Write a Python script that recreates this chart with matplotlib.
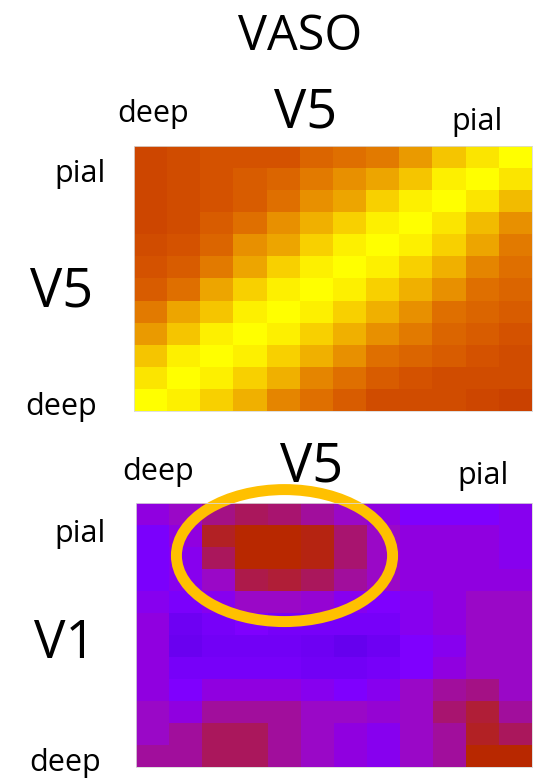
import numpy as np
import matplotlib
matplotlib.use("Agg")
import matplotlib.pyplot as plt
from matplotlib.colors import LinearSegmentedColormap
from matplotlib.patches import Ellipse

plt.rcParams['font.family'] = ['Open Sans', 'DejaVu Sans']

# Layer-by-layer VASO correlation matrices (rows: pial -> deep, cols: deep -> pial)
v5_v5 = [
    [1.0, 1.5, 2.0, 2.0, 2.0, 3.0, 3.5, 4.0, 5.5, 7.5, 9.0, 10.0],
    [1.0, 1.5, 2.0, 2.5, 3.0, 4.0, 5.0, 6.0, 7.5, 9.5, 10.0, 9.0],
    [1.0, 1.5, 2.0, 2.5, 3.5, 5.0, 6.0, 8.0, 9.5, 10.0, 9.0, 7.0],
    [1.0, 1.5, 2.5, 3.5, 5.0, 6.5, 8.0, 9.5, 10.0, 9.0, 7.0, 5.0],
    [1.5, 2.0, 3.0, 5.0, 6.0, 8.0, 9.5, 10.0, 9.5, 8.0, 6.0, 4.0],
    [2.0, 2.5, 4.0, 6.0, 8.0, 9.5, 10.0, 9.5, 8.0, 6.5, 4.5, 3.5],
    [2.5, 3.5, 6.0, 8.0, 9.5, 10.0, 9.5, 8.0, 6.5, 5.0, 3.5, 3.0],
    [4.0, 6.0, 7.5, 9.5, 10.0, 9.5, 8.0, 6.5, 5.0, 3.5, 3.0, 2.5],
    [5.5, 7.5, 9.5, 10.0, 9.5, 8.0, 6.5, 5.0, 4.0, 3.0, 2.5, 2.0],
    [7.5, 9.5, 10.0, 9.5, 8.0, 6.5, 5.0, 3.5, 3.0, 2.5, 2.0, 1.5],
    [9.0, 10.0, 9.5, 8.0, 6.5, 4.5, 3.5, 2.5, 2.0, 1.5, 1.5, 1.5],
    [10.0, 9.5, 8.0, 6.5, 4.5, 3.5, 2.5, 1.5, 1.5, 1.5, 1.0, 0.5],
]

v1_v5 = [
    [4.0, 5.0, 6.5, 7.5, 7.0, 6.0, 5.0, 4.0, 3.0, 3.0, 3.0, 3.5],
    [2.5, 4.0, 9.0, 10.0, 10.0, 9.5, 7.0, 5.0, 4.0, 4.0, 4.0, 3.5],
    [2.5, 3.5, 7.5, 10.0, 10.0, 9.5, 7.0, 5.0, 4.0, 4.0, 4.0, 3.5],
    [2.5, 3.5, 5.0, 8.0, 8.5, 7.5, 6.0, 5.0, 4.0, 4.0, 4.0, 4.0],
    [3.5, 2.5, 3.5, 5.0, 5.0, 4.5, 3.5, 3.0, 3.5, 4.0, 5.0, 5.0],
    [4.0, 1.0, 2.0, 3.0, 2.0, 2.0, 2.0, 2.0, 3.5, 4.0, 5.0, 5.0],
    [4.0, 0.5, 1.5, 1.5, 1.5, 1.0, 0.0, 1.0, 3.0, 3.5, 5.0, 5.0],
    [4.0, 2.0, 2.0, 2.0, 2.0, 1.5, 1.5, 2.0, 3.0, 4.0, 5.0, 5.0],
    [4.0, 3.0, 4.0, 4.0, 4.0, 3.5, 3.0, 3.5, 5.0, 6.0, 6.5, 5.0],
    [5.0, 4.0, 6.0, 6.0, 6.0, 5.0, 5.0, 4.5, 5.0, 7.0, 8.5, 6.0],
    [5.0, 6.0, 7.5, 7.5, 6.0, 5.0, 4.0, 3.5, 5.0, 6.0, 9.0, 7.5],
    [6.0, 6.0, 7.5, 7.5, 6.0, 5.0, 4.0, 3.5, 5.0, 6.0, 10.0, 10.0],
]

title = "VASO"
row_labels = ["pial", "deep"]
col_labels = ["deep", "pial"]

warm = LinearSegmentedColormap.from_list(
    "warm", [(0.0, "#c83c00"), (0.2, "#d45200"), (0.35, "#e07000"),
             (0.5, "#e89000"), (0.65, "#f0b000"), (0.8, "#f8d000"),
             (0.95, "#fdf000"), (1.0, "#ffff00")])
violet = LinearSegmentedColormap.from_list(
    "violet", [(0.0, "#6600ee"), (0.3, "#8000ff"), (0.4, "#9000e0"),
               (0.5, "#9a08c8"), (0.7, "#a81470"), (1.0, "#b82800")])

W, H = 543, 780
fig = plt.figure(figsize=(W / 100, H / 100), dpi=100)


def px_axes(x0, y0, x1, y1):
    return fig.add_axes([x0 / W, 1 - y1 / H, (x1 - x0) / W, (y1 - y0) / H])


def label(x, y, s, size):
    fig.text(x / W, 1 - y / H, s, ha='center', va='baseline', fontsize=size, color='black')


def heat(ax, data, cmap):
    ax.imshow(np.array(data), cmap=cmap, vmin=0, vmax=10, aspect='auto',
              interpolation='nearest')
    ax.set_xticks([])
    ax.set_yticks([])
    for s in ax.spines.values():
        s.set_color('#d8d8d8')
        s.set_linewidth(0.6)


ax1 = px_axes(134, 146, 532, 411)
heat(ax1, v5_v5, warm)
ax2 = px_axes(136, 503, 532, 767)
heat(ax2, v1_v5, violet)

# highlight the pial-pial cluster
ax2.add_patch(Ellipse((4.0, 1.89), 6.55, 6.0, fill=False, edgecolor='#ffc000',
                      linewidth=7.9, clip_on=False))

label(300, 50, title, 35)
label(306, 128, "V5", 39)
label(153, 122, col_labels[0], 22)
label(477, 130, col_labels[1], 22)
label(80, 182, row_labels[0], 22)
label(62, 307, "V5", 39)
label(61, 415, row_labels[1], 22)

label(312, 482, "V5", 39)
label(158, 480, col_labels[0], 22)
label(483, 484, col_labels[1], 22)
label(80, 542, row_labels[0], 22)
label(65, 658, "V1", 38)
label(65, 771, row_labels[1], 22)

fig.savefig("out.png", dpi=100)
